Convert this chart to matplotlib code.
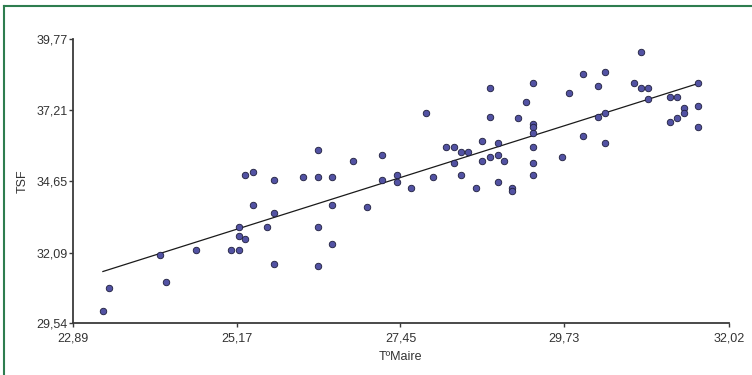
import numpy as np
import matplotlib
matplotlib.use("Agg")
import matplotlib.pyplot as plt
from matplotlib.ticker import FixedLocator, FixedFormatter

plt.rcParams['font.family'] = ['Liberation Sans', 'DejaVu Sans']

temp_aire = [23.31, 23.40, 24.10, 24.19, 24.60, 25.09, 25.20, 25.20, 25.20, 25.29,
             25.29, 25.40, 25.40, 25.59, 25.69, 25.69, 25.69, 26.09, 26.30, 26.30,
             26.50, 26.50, 26.30, 26.50, 26.30, 26.79, 26.99, 27.19, 27.19, 27.40,
             27.40, 27.60, 27.80, 27.90, 28.09, 28.20, 28.20, 28.29, 28.29, 28.39,
             28.50, 28.59, 28.59, 28.70, 28.70, 28.70, 28.80, 28.80, 28.80, 28.89,
             29.00, 29.00, 29.09, 29.19, 29.30, 29.30, 29.30, 29.30, 29.30, 29.30,
             29.30, 29.69, 29.80, 29.99, 29.99, 30.20, 30.20, 30.30, 30.30, 30.30,
             30.70, 30.79, 30.79, 30.89, 30.89, 31.20, 31.20, 31.30, 31.30, 31.39,
             31.39, 31.59, 31.59, 31.59]
tsf = [29.99, 30.80, 32.00, 31.02, 32.19, 32.19, 32.19, 32.70, 33.02, 32.58,
       34.88, 35.00, 33.80, 33.02, 34.69, 33.52, 31.69, 34.82, 35.78, 34.82,
       34.82, 33.80, 33.02, 32.40, 31.60, 35.40, 33.72, 35.60, 34.70, 34.89,
       34.62, 34.43, 37.12, 34.82, 35.90, 35.90, 35.33, 35.71, 34.89, 35.71,
       34.43, 36.11, 35.40, 38.01, 36.98, 35.52, 36.02, 35.60, 34.62, 35.40,
       34.43, 34.31, 36.92, 37.51, 38.21, 36.73, 36.60, 36.41, 35.90, 35.32,
       34.88, 35.52, 37.83, 38.52, 36.30, 38.09, 36.98, 38.60, 37.13, 36.02,
       38.21, 39.30, 38.01, 38.01, 37.62, 37.69, 36.80, 37.69, 36.92, 37.31,
       37.13, 38.21, 37.38, 36.61]

x_ticks = [22.89, 25.17, 27.45, 29.73, 32.02]
x_tick_labels = ["22,89", "25,17", "27,45", "29,73", "32,02"]
y_ticks = [29.54, 32.09, 34.65, 37.21, 39.77]
y_tick_labels = ["29,54", "32,09", "34,65", "37,21", "39,77"]

x = np.array(temp_aire)
y = np.array(tsf)

fig = plt.figure(figsize=(7.52, 3.75), dpi=100)
ax = fig.add_axes([72.7 / 752, 1 - 323.3 / 375, (729 - 72.7) / 752, (323.3 - 39.3) / 375])

ax.scatter(x, y, s=22, facecolor='#5252a3', edgecolor='#1e1e3c', linewidth=0.6, zorder=3)

coef = np.polyfit(x, y, 1)
xl = np.array([x.min(), x.max()])
ax.plot(xl, np.polyval(coef, xl), color='#1a1a1a', linewidth=0.9, zorder=2)

ax.set_xlim(x_ticks[0], x_ticks[-1])
ax.set_ylim(y_ticks[0], y_ticks[-1])
ax.xaxis.set_major_locator(FixedLocator(x_ticks))
ax.xaxis.set_major_formatter(FixedFormatter(x_tick_labels))
ax.yaxis.set_major_locator(FixedLocator(y_ticks))
ax.yaxis.set_major_formatter(FixedFormatter(y_tick_labels))

for side in ['top', 'right']:
    ax.spines[side].set_visible(False)
for side in ['left', 'bottom']:
    ax.spines[side].set_color('#3a3a3a')
    ax.spines[side].set_linewidth(1.3)
ax.tick_params(axis='both', direction='out', length=3, width=1.0, color='#3a3a3a',
               labelsize=9, labelcolor='#333333')
ax.tick_params(axis='y', pad=0.5)
ax.tick_params(axis='x', pad=3.5)

ax.set_xlabel('TºMaire', fontsize=9, color='#333333', labelpad=5)
ax.set_ylabel('TSF', fontsize=9, color='#333333', labelpad=6)

# green frame around the figure
fig.add_artist(plt.Line2D([3.5 / 752, 3.5 / 752], [0, 1 - 5.5 / 375], transform=fig.transFigure,
                          color='#2e7d4f', linewidth=1.5))
fig.add_artist(plt.Line2D([3.5 / 752, 751.5 / 752], [1 - 5.5 / 375, 1 - 5.5 / 375],
                          transform=fig.transFigure, color='#2e7d4f', linewidth=1.5))

fig.savefig('out.png', dpi=100)
